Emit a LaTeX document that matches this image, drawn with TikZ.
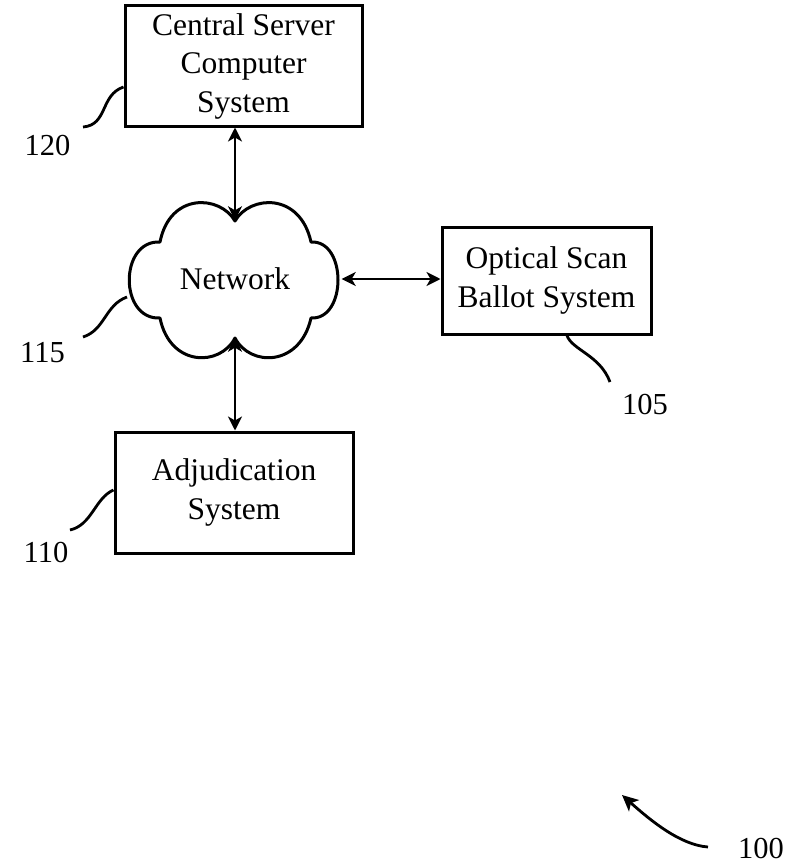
\documentclass[tikz,border=0pt]{standalone}
\usepackage{fontspec}
\setmainfont{Liberation Serif}
\usetikzlibrary{arrows.meta}

\tikzset{
  sysbox/.style={draw, line width=3pt, align=center, inner sep=0pt,
    font=\fontsize{31.5}{38.5}\selectfont},
  cloudtext/.style={inner sep=0pt, font=\fontsize{31.5}{38.5}\selectfont},
  arr/.style={{Stealth[length=14pt,width=14pt,inset=4pt]}-{Stealth[length=14pt,width=14pt,inset=4pt]}, line width=2.8pt},
  lead/.style={line width=2.8pt},
  reflabel/.style={inner sep=0pt, font=\fontsize{30.5}{36}\selectfont},
}

\begin{document}
\begin{tikzpicture}[x=1pt, y=-1pt]
\useasboundingbox (0,0) rectangle (788,867);

% blocks
\node[sysbox, minimum width=237pt, minimum height=120pt] (cs) at (243.5,66) {Central Server\\Computer\\System};
\node[sysbox, minimum width=209pt, minimum height=107pt] (opt) at (546.5,280.5) {Optical Scan\\Ballot System};
\node[sysbox, minimum width=238pt, minimum height=121pt] (adj) at (234,492.5) {Adjudication\\System};

% network cloud
\node[cloudtext, minimum width=213pt, minimum height=117pt] (net) at (235,279) {Network};
\draw[line width=3pt, line join=round]
  (235,221) .. controls (250,195) and (300,192) .. (311,242)
  .. controls (347,240) and (347,320) .. (311,318)
  .. controls (300,367) and (250,367) .. (235,338)
  .. controls (220,367) and (170,367) .. (160,318)
  .. controls (119,320) and (119,240) .. (160,242)
  .. controls (170,192) and (220,195) .. (235,221) -- cycle;

% links
\draw[arr] (net.north) -- (net.north |- cs.south);
\draw[arr] (net.east) -- (net.east -| opt.west);
\draw[arr] (net.south) -- (net.south |- adj.north);

% reference numerals
\node[reflabel] (l120) at (47.5,146) {120};
\node[reflabel] (l115) at (42.5,353) {115};
\node[reflabel] (l105) at (645,405) {105};
\node[reflabel] (l110) at (46,553) {110};
\node[reflabel] (l100) at (761,848) {100};

\coordinate (e120) at (83,127);
\coordinate (e115) at (83,337);
\coordinate (e105) at (610,382);
\coordinate (e110) at (70,530);
\coordinate (e100) at (708,847);
\coordinate (t100) at (622,795);

\draw[lead] (cs.west |- 0,87) .. controls (100,95) and (108,125) .. (e120);
\draw[lead] (127,297) .. controls (105,305) and (105,330) .. (e115);
\draw[lead] (opt.south -| 567,0) .. controls (572,350) and (600,355) .. (e105);
\draw[lead] (adj.west |- 0,490) .. controls (95,498) and (92,525) .. (e110);
\draw[lead, -{Stealth[length=16pt,width=15pt,inset=4pt]}] (e100) .. controls (680,845) and (650,820) .. (t100);
\end{tikzpicture}
\end{document}
